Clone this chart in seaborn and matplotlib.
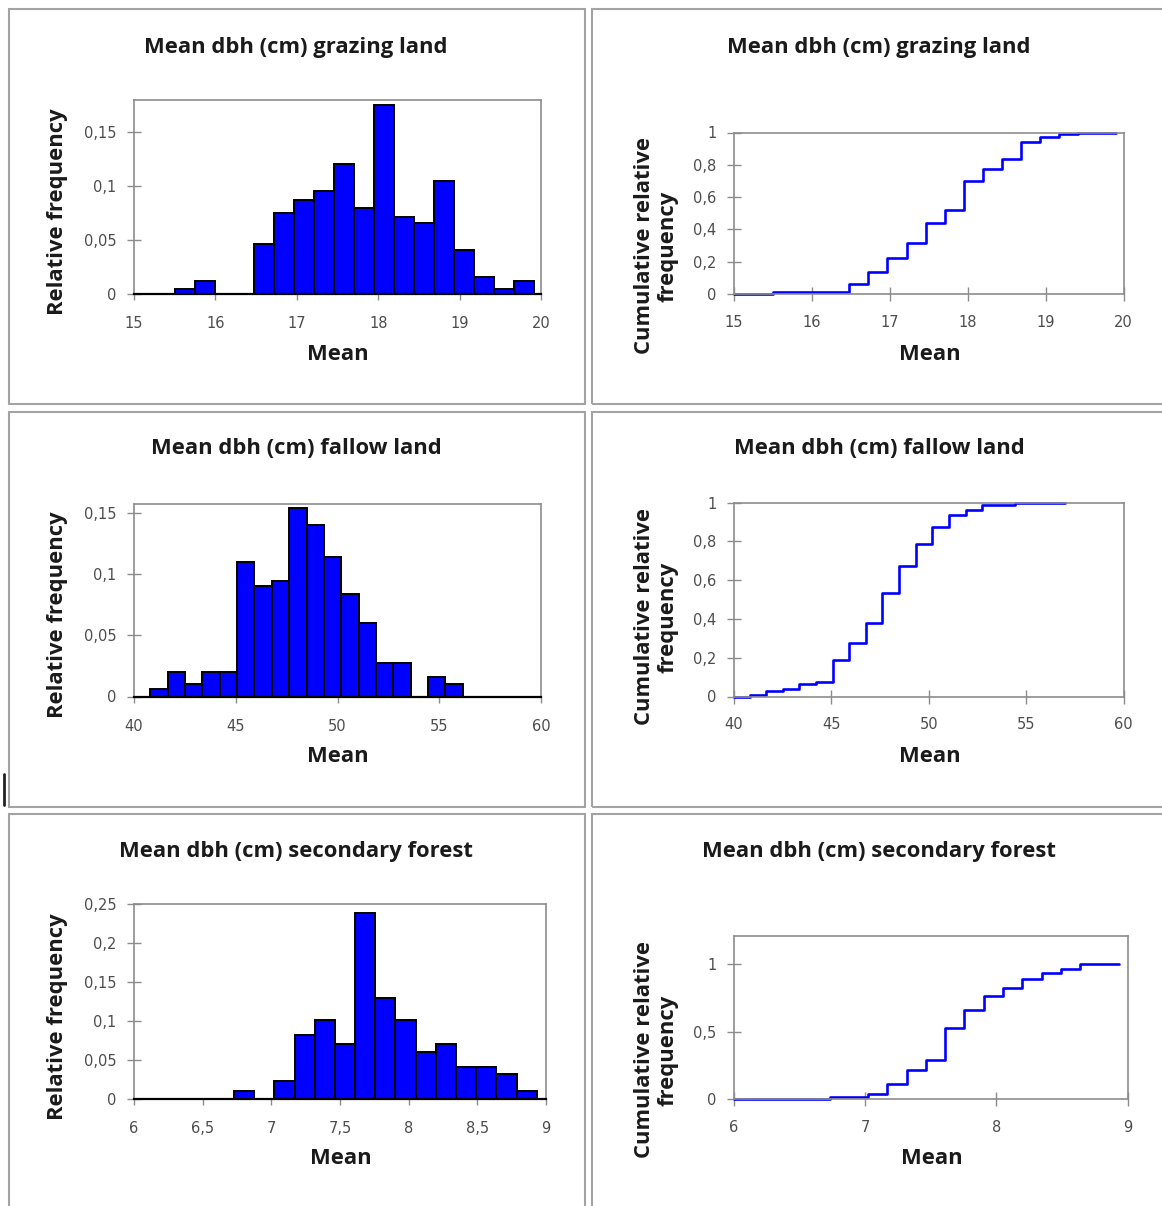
import numpy as np
import pandas as pd
import matplotlib
matplotlib.use("Agg")
import matplotlib.pyplot as plt
import seaborn as sns
from matplotlib.patches import Rectangle
from matplotlib.lines import Line2D
from matplotlib.ticker import FixedLocator, FuncFormatter

# ---------------- data ----------------
graz_edges = [15.50, 15.745, 15.99, 16.235, 16.48, 16.725, 16.97, 17.215, 17.46,
              17.705, 17.95, 18.195, 18.44, 18.685, 18.93, 19.175, 19.42, 19.665, 19.91]
graz_freq = [0.005, 0.012, 0.0, 0.0, 0.046, 0.075, 0.087, 0.096, 0.121,
             0.080, 0.175, 0.071, 0.066, 0.105, 0.041, 0.016, 0.005, 0.012]
graz_cum = [0.010, 0.012, 0.012, 0.012, 0.060, 0.135, 0.226, 0.316, 0.438,
            0.519, 0.698, 0.771, 0.835, 0.940, 0.970, 0.990, 1.000, 1.000]

fallow_edges = [40.80, 41.65, 42.51, 43.36, 44.21, 45.07, 45.92, 46.77, 47.62, 48.48,
                49.33, 50.18, 51.04, 51.89, 52.74, 53.60, 54.45, 55.30, 56.16, 57.01]
fallow_freq = [0.006, 0.020, 0.010, 0.020, 0.020, 0.110, 0.090, 0.094, 0.154, 0.140,
               0.114, 0.084, 0.060, 0.027, 0.027, 0.0, 0.016, 0.010, 0.0]
fallow_cum = [0.010, 0.027, 0.038, 0.064, 0.076, 0.189, 0.278, 0.381, 0.533, 0.674,
              0.787, 0.873, 0.933, 0.962, 0.988, 0.988, 0.996, 1.000, 1.000]

sec_edges = [6.729, 6.876, 7.023, 7.170, 7.317, 7.464, 7.611, 7.757, 7.904,
             8.051, 8.198, 8.345, 8.492, 8.639, 8.786, 8.933]
sec_freq = [0.010, 0.0, 0.023, 0.082, 0.101, 0.070, 0.239, 0.129, 0.101,
            0.060, 0.070, 0.041, 0.041, 0.032, 0.010]
sec_cum = [0.013, 0.015, 0.035, 0.109, 0.218, 0.290, 0.527, 0.661, 0.765,
           0.822, 0.891, 0.933, 0.965, 1.000, 1.000]

titles = ["Mean dbh (cm) grazing land", "Mean dbh (cm) fallow land",
          "Mean dbh (cm) secondary forest"]
hist_ylabel = "Relative frequency"
cum_ylabel = "Cumulative relative\nfrequency"
xlabel = "Mean"

graz_xticks = [15, 16, 17, 18, 19, 20]
fallow_xticks = [40, 45, 50, 55, 60]
sec_hist_xticks = [6, 6.5, 7, 7.5, 8, 8.5, 9]
sec_cum_xticks = [6, 7, 8, 9]
graz_hist_yticks = [0, 0.05, 0.1, 0.15]
fallow_hist_yticks = [0, 0.05, 0.1, 0.15]
sec_hist_yticks = [0, 0.05, 0.1, 0.15, 0.2, 0.25]
cum_yticks = [0, 0.2, 0.4, 0.6, 0.8, 1]
sec_cum_yticks = [0, 0.5, 1]

# ---------------- style ----------------
sns.set_style("white")
plt.rcParams['font.family'] = ['Open Sans', 'DejaVu Sans']

W, H = 1162, 1206
DPI = 100
fig = plt.figure(figsize=(W / DPI, H / DPI), dpi=DPI)

BLUE = "#0000FF"
GRAY = "#8c8c8c"
TICKC = "#4d4d4d"
TICKFONT = dict(family=['DejaVu Sans'], size=10.5)


def rect(x0, x1, ytop, ybot):
    return [x0 / W, 1 - ybot / H, (x1 - x0) / W, (ybot - ytop) / H]


def comma(v, pos=None):
    s = ("%g" % v)
    return s.replace(".", ",")


# panel borders
for (x0, x1) in [(9, 585), (592, 1175)]:
    for (y0, y1) in [(9, 404), (411.5, 806.5), (814, 1220)]:
        fig.add_artist(Rectangle((x0 / W, 1 - y1 / H), (x1 - x0) / W, (y1 - y0) / H,
                                 transform=fig.transFigure, fill=False,
                                 edgecolor="#a3a3a3", linewidth=1.5))
# stray cursor mark
fig.add_artist(Line2D([3.5 / W, 3.5 / W], [1 - 774 / H, 1 - 805 / H],
                      transform=fig.transFigure, color="#222222", linewidth=2))


def style_axes(ax, hist):
    for s in ax.spines.values():
        s.set_color(GRAY)
        s.set_linewidth(1.2)
        s.set_visible(True)
    if hist:
        ax.spines['bottom'].set_color("black")
        ax.spines['bottom'].set_linewidth(1.6)
        ax.spines['bottom'].set_zorder(5)
        ax.tick_params(axis='x', direction='out', length=4, width=1, color=GRAY,
                       pad=12, labelcolor=TICKC)
    else:
        ax.tick_params(axis='x', direction='inout', length=10, width=1, color=GRAY,
                       pad=10, labelcolor=TICKC)
    ax.tick_params(axis='y', direction='inout', length=10, width=1, color=GRAY,
                   pad=7.5, labelcolor=TICKC, left=True)
    ax.tick_params(axis='x', bottom=True)
    ax.xaxis.set_major_formatter(FuncFormatter(comma))
    ax.yaxis.set_major_formatter(FuncFormatter(comma))
    for lab in ax.get_xticklabels() + ax.get_yticklabels():
        lab.set_fontfamily(TICKFONT['family'])
        lab.set_fontsize(TICKFONT['size'])
    ax.set_xlabel("")
    ax.set_ylabel("")
    ax.grid(False)


def draw_hist(axr, edges, freq, xlim, ylim, xticks, yticks):
    ax = fig.add_axes(rect(*axr))
    e = np.asarray(edges, dtype=float)
    df = pd.DataFrame({"x": (e[:-1] + e[1:]) / 2, "w": freq})
    sns.histplot(data=df, x="x", weights="w", bins=list(edges), ax=ax, color=BLUE,
                 edgecolor="black", linewidth=1.4, alpha=1.0, stat="count")
    ax.set_xlim(*xlim)
    ax.set_ylim(*ylim)
    ax.xaxis.set_major_locator(FixedLocator(xticks))
    ax.yaxis.set_major_locator(FixedLocator(yticks))
    style_axes(ax, True)
    return ax


def draw_cum(axr, edges, cum, xlim, ylim, xticks, yticks):
    ax = fig.add_axes(rect(*axr))
    xs = [xlim[0]] + list(edges)
    ys = [0.0] + list(cum) + [cum[-1]]
    df = pd.DataFrame({"x": xs, "y": ys})
    sns.lineplot(data=df, x="x", y="y", ax=ax, color=BLUE, linewidth=1.9,
                 drawstyle="steps-post", estimator=None, sort=False)
    ax.set_xlim(*xlim)
    ax.set_ylim(*ylim)
    ax.xaxis.set_major_locator(FixedLocator(xticks))
    ax.yaxis.set_major_locator(FixedLocator(yticks))
    style_axes(ax, False)
    for line in ax.lines:
        line.set_clip_on(False)
    return ax


# Row 1
draw_hist((134, 541, 100, 294), graz_edges, graz_freq, (15, 20), (0, 0.18),
          graz_xticks, graz_hist_yticks)
draw_cum((734, 1123.5, 132.5, 294), graz_edges, graz_cum, (15, 20), (0, 1),
         graz_xticks, cum_yticks)
# Row 2
draw_hist((134, 541, 503.5, 696.5), fallow_edges, fallow_freq, (40, 60), (0, 0.1575),
          fallow_xticks, fallow_hist_yticks)
draw_cum((734, 1123.5, 502.5, 696.5), fallow_edges, fallow_cum, (40, 60), (0, 1),
         fallow_xticks, cum_yticks)
# Row 3
draw_hist((134, 546, 904, 1099), sec_edges, sec_freq, (6, 9), (0, 0.25),
          sec_hist_xticks, sec_hist_yticks)
draw_cum((734, 1127.5, 936, 1099), sec_edges, sec_cum, (6, 9), (0, 1.21),
         sec_cum_xticks, sec_cum_yticks)

# Titles and labels
TFS = 15.8
LFS = 15.8
title_y = [47, 449, 852]
label_y = [354, 756, 1158]
hist_ylab_y = [212, 615, 1017]
cum_ylab_y = [246, 617, 1050]
xl_left = [338, 338, 341]
xl_right = [930, 930, 932]
TXT = "#1a1a1a"
for i in range(3):
    fig.text(296 / W, 1 - title_y[i] / H, titles[i], ha='center', va='center',
             fontsize=TFS, fontweight='bold', color=TXT)
    fig.text(879 / W, 1 - title_y[i] / H, titles[i], ha='center', va='center',
             fontsize=TFS, fontweight='bold', color=TXT)
    fig.text(xl_left[i] / W, 1 - label_y[i] / H, xlabel, ha='center', va='center',
             fontsize=LFS, fontweight='bold', color=TXT)
    fig.text(xl_right[i] / W, 1 - label_y[i] / H, xlabel, ha='center', va='center',
             fontsize=LFS, fontweight='bold', color=TXT)
    fig.text(58 / W, 1 - hist_ylab_y[i] / H, hist_ylabel, ha='center', va='center',
             rotation=90, fontsize=LFS, fontweight='bold', color=TXT)
    fig.text(656 / W, 1 - cum_ylab_y[i] / H, cum_ylabel, ha='center', va='center',
             rotation=90, fontsize=LFS, fontweight='bold', color=TXT,
             multialignment='center', linespacing=1.15)

fig.savefig("out.png", dpi=DPI, facecolor="white")
